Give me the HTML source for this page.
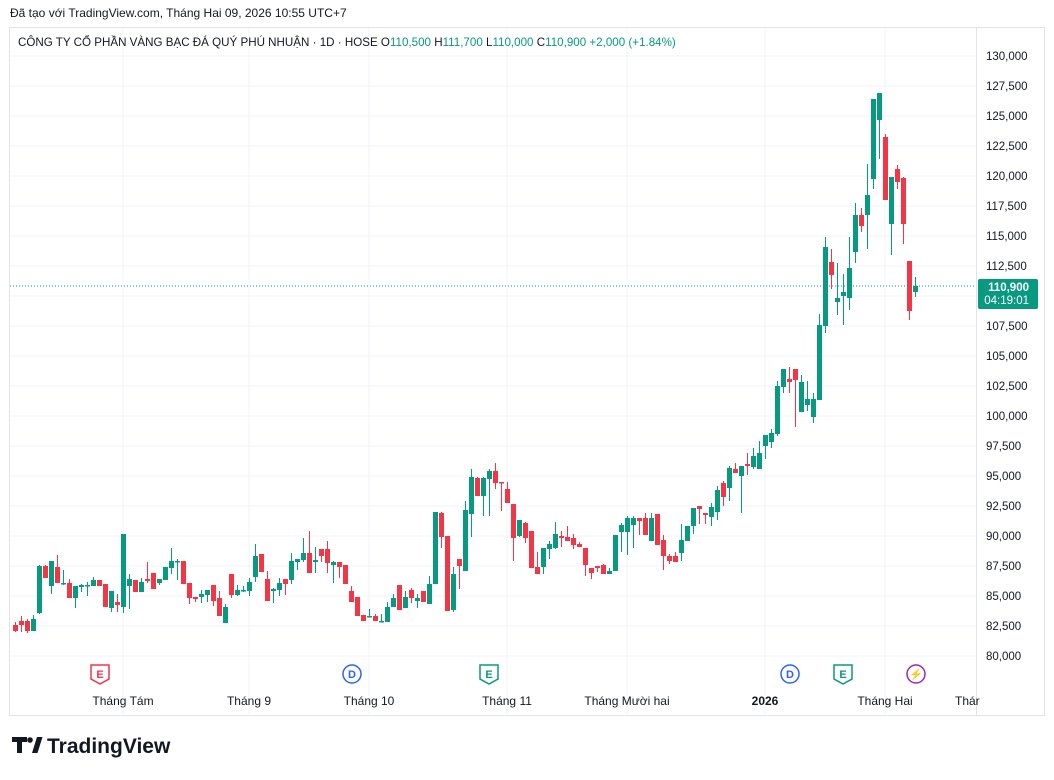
<!DOCTYPE html>
<html><head><meta charset="utf-8"><style>
body{margin:0;background:#fff;width:1054px;height:775px;overflow:hidden;font-family:"Liberation Sans","Noto Sans CJK SC",sans-serif;}
svg text{font-family:"Liberation Sans",sans-serif;}
</style></head><body>
<svg id="s" width="1054" height="775" xmlns="http://www.w3.org/2000/svg">
<text x="10" y="17" font-size="12" fill="#131722">Đã tạo với TradingView.com, Tháng Hai 09, 2026 10:55 UTC+7</text>
<rect x="9.5" y="27.5" width="1035" height="688" fill="#fff" stroke="#e0e3eb"/>
<g id="grid"></g>
<g id="cand"></g>
<line x1="10" y1="286" x2="976" y2="286" stroke="#089981" stroke-dasharray="1,2"/>
<text x="18" y="46" font-size="11.6" fill="#131722">CÔNG TY CỔ PHẦN VÀNG BẠC ĐÁ QUÝ PHÚ NHUẬN · 1D · HOSE <tspan fill="#131722">O</tspan><tspan fill="#089981">110,500</tspan> H<tspan fill="#089981">111,700</tspan> L<tspan fill="#089981">110,000</tspan> C<tspan fill="#089981">110,900</tspan> <tspan fill="#089981">+2,000 (+1.84%)</tspan></text>
<g id="axis" font-size="11.5" fill="#131722"></g>
<rect x="978" y="279" width="60" height="30" rx="2" fill="#089981"/>
<text x="1029" y="291" font-size="11.5" fill="#fff" text-anchor="end" font-weight="bold">110,900</text>
<text x="1029" y="304" font-size="11.5" fill="#fff" text-anchor="end">04:19:01</text>
<g font-size="12" fill="#131722" text-anchor="middle">
<text x="123" y="705">Tháng Tám</text><text x="249" y="705">Tháng 9</text><text x="369" y="705">Tháng 10</text><text x="507" y="705">Tháng 11</text><text x="627" y="705">Tháng Mười hai</text><text x="765" y="705" font-weight="bold">2026</text><text x="885" y="705">Tháng Hai</text><text x="955" y="705" text-anchor="start">Thár</text>
</g>
<g font-size="11" text-anchor="middle" font-weight="bold">
<path d="M91 665h18v14l-9 5-9-5z" fill="#fff" stroke="#f23645" stroke-width="1.5"/><text x="100" y="678" fill="#f23645">E</text>
<circle cx="352" cy="674" r="9" fill="#fff" stroke="#2962ff" stroke-width="1.5"/><text x="352" y="678" fill="#2962ff">D</text>
<path d="M480 665h18v14l-9 5-9-5z" fill="#fff" stroke="#089981" stroke-width="1.5"/><text x="489" y="678" fill="#089981">E</text>
<circle cx="790" cy="674" r="9" fill="#fff" stroke="#2962ff" stroke-width="1.5"/><text x="790" y="678" fill="#2962ff">D</text>
<path d="M834 665h18v14l-9 5-9-5z" fill="#fff" stroke="#089981" stroke-width="1.5"/><text x="843" y="678" fill="#089981">E</text>
<circle cx="916" cy="674" r="9" fill="#fff" stroke="#9c27b0" stroke-width="1.5"/><text x="916" y="678" fill="#9c27b0">⚡</text>
</g>
<g fill="#131722"><rect x="12" y="737" width="15" height="5"/><rect x="17" y="737" width="5" height="16"/><circle cx="30" cy="740" r="2.8"/><path d="M32 753l5-16h5.5l-5 16z"/></g>
<text x="47" y="753" font-size="21" font-weight="bold" fill="#131722">TradingView</text>
</svg>
<script>
var d=[[625,631,622,632],[621,625,616,632],[621,631,619,633],[631,619,615,631],[613,566,565,614],[566,578,565,578],[586,561,561,594],[567,583,555,583],[584,583,570,585],[583,598,579,598],[598,586,586,608],[587,585,584,592],[586,585,582,596],[586,580,577,586],[580,586,580,586],[584,607,584,607],[608,591,591,612],[602,605,594,612],[607,534,534,613],[586,579,574,609],[580,592,580,592],[592,582,578,592],[579,581,562,583],[573,589,573,589],[583,579,579,585],[580,567,567,580],[568,561,548,574],[562,561,559,580],[561,584,561,584],[583,598,583,604],[597,599,597,602],[597,594,590,603],[595,590,590,602],[585,601,585,606],[598,616,591,616],[623,607,604,623],[574,595,574,598],[595,590,585,596],[591,590,586,592],[591,582,578,596],[577,556,544,582],[554,572,554,572],[579,601,571,601],[591,589,588,603],[590,583,578,596],[579,584,579,595],[580,561,553,584],[562,559,559,570],[560,553,538,562],[553,573,531,573],[562,560,547,573],[549,556,549,562],[549,563,541,573],[565,562,561,583],[562,567,562,578],[565,584,565,584],[591,602,586,602],[597,616,597,616],[615,621,615,621],[617,616,609,617],[616,621,614,621],[622,621,614,622],[622,607,602,622],[607,598,594,607],[585,610,585,610],[608,597,591,608],[590,598,588,603],[601,598,594,608],[591,602,591,602],[604,584,576,604],[584,512,512,584],[513,537,512,548],[536,611,536,611],[610,574,567,612],[559,566,559,589],[571,510,501,571],[514,477,469,537],[478,496,477,496],[496,478,477,516],[479,471,469,516],[471,483,463,489],[482,482,482,511],[489,503,482,503],[504,538,504,561],[536,520,520,537],[523,538,522,543],[531,568,531,568],[567,574,552,574],[567,548,548,574],[549,544,541,559],[548,534,522,549],[536,538,531,547],[537,541,526,541],[538,545,534,549],[544,547,542,547],[548,565,548,576],[568,573,568,579],[566,568,566,572],[565,574,564,574],[574,571,568,574],[571,535,535,571],[532,525,523,552],[532,518,516,555],[525,518,516,548],[518,521,518,535],[518,535,513,535],[541,518,513,541],[514,545,514,545],[540,556,535,570],[556,561,554,564],[556,562,552,562],[553,540,524,561],[541,526,526,541],[526,508,508,534],[506,509,506,524],[513,515,513,524],[517,507,503,526],[512,490,486,520],[483,497,481,506],[488,468,466,501],[469,473,463,473],[476,466,466,513],[464,466,453,475],[467,456,448,469],[469,453,441,469],[446,435,435,459],[442,433,429,448],[434,386,381,436],[387,369,369,393],[379,382,367,393],[369,380,369,427],[412,382,375,412],[405,399,381,411],[417,399,393,423],[400,325,314,400],[326,247,237,333],[262,275,249,289],[302,298,263,315],[296,292,274,325],[298,268,237,310],[252,215,203,263],[215,226,208,232],[215,195,164,249],[179,99,99,189],[120,93,93,159],[137,200,134,200],[224,177,177,255],[169,182,165,189],[178,224,177,244],[261,311,261,320],[292,286,277,297]];
var g='';d.forEach(function(c,i){var x=15+6*i,up=c[1]<c[0],col=up?'#089981':'#f23645',t=Math.min(c[0],c[1]),b=Math.max(c[0],c[1]);
g+='<line x1="'+(x+0.5)+'" x2="'+(x+0.5)+'" y1="'+c[2]+'" y2="'+c[3]+'" stroke="'+col+'"/><rect x="'+(x-2)+'" y="'+t+'" width="5" height="'+Math.max(1.5,b-t)+'" fill="'+col+'"/>';});
document.getElementById('cand').innerHTML=g;
var gr='',ax='';for(var k=0;k<=20;k++){var y=56+30*k;var p=130000-2500*k;gr+='<line x1="10" x2="976" y1="'+y+'" y2="'+y+'" stroke="#f0f3fa"/>';ax+='<text x="986" y="'+(y+4)+'">'+p.toLocaleString('en-US')+'</text>';}
[123,249,369,507,627,765,885].forEach(function(x){gr+='<line x1="'+x+'" x2="'+x+'" y1="28" y2="716" stroke="#f0f3fa"/>';});
gr+='<line x1="976.5" x2="976.5" y1="28" y2="716" stroke="#e0e3eb"/>';
document.getElementById('grid').innerHTML=gr;document.getElementById('axis').innerHTML=ax;
</script>
</body></html>
